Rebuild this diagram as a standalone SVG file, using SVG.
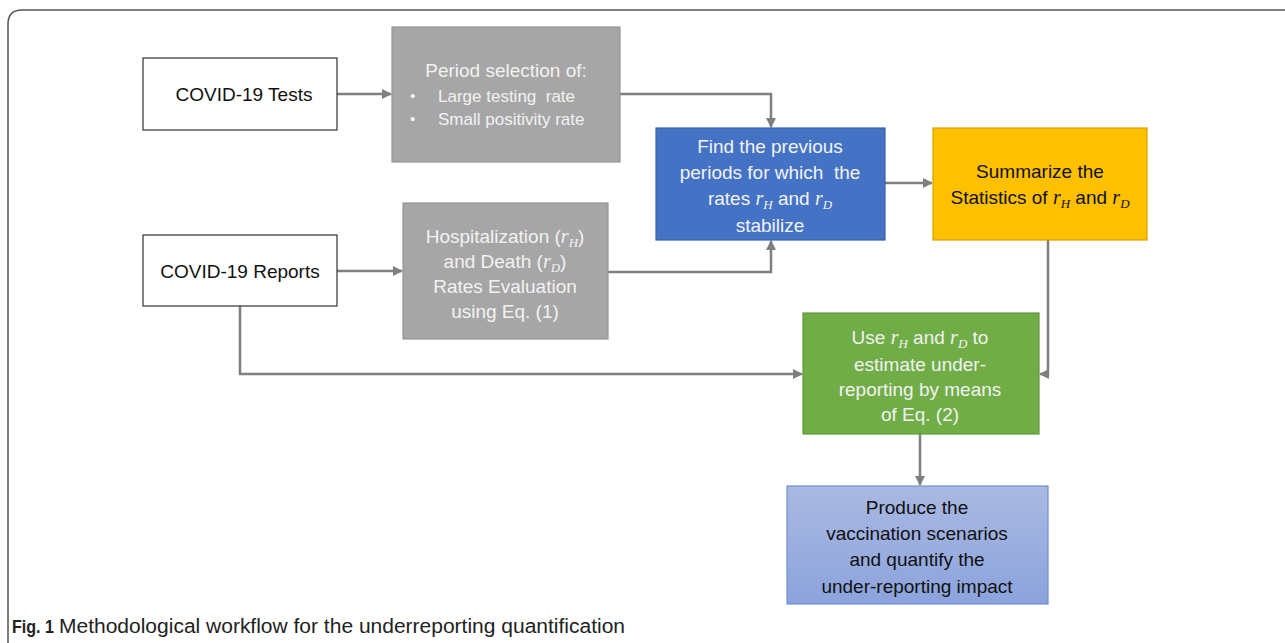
<svg xmlns="http://www.w3.org/2000/svg" width="1285" height="643" viewBox="0 0 1285 643">
<style>
.t{font-family:"Liberation Sans",Arial,sans-serif;font-size:19px;text-anchor:middle}
.w{fill:#f2f2f2}
.k{fill:#111}
.m{font-family:"Liberation Serif","Times New Roman",serif;font-style:italic;font-size:20px}
.s{font-family:"Liberation Serif","Times New Roman",serif;font-style:italic;font-size:13px}
.c{stroke:#7f7f7f;stroke-width:2.5;fill:none;marker-end:url(#a)}
</style>
<defs>
<marker id="a" viewBox="0 0 10 10" refX="9" refY="5" markerWidth="4" markerHeight="4" orient="auto" markerUnits="strokeWidth">
<path d="M0 0 L10 5 L0 10 z" fill="#7f7f7f"/>
</marker>
<linearGradient id="g" x1="0" y1="0" x2="0" y2="1">
<stop offset="0" stop-color="#aab9e2"/>
<stop offset="1" stop-color="#8ba3dc"/>
</linearGradient>
</defs>
<rect width="1285" height="643" fill="#fff"/>
<path d="M8 643 V24 Q8 10 22 10 H1285" fill="none" stroke="#555" stroke-width="1.5"/>

<g id="connectors">
<path class="c" d="M337 94 H391"/>
<path class="c" d="M620 94 H771 V127"/>
<path class="c" d="M337 271 H402"/>
<path class="c" d="M608 272 H771 V241"/>
<path class="c" d="M885 183 H932"/>
<path class="c" d="M1048 240 V374 H1040"/>
<path class="c" d="M240 306 V374 H802"/>
<path class="c" d="M920 434 V485"/>
</g>

<g id="tests">
<rect x="143" y="58" width="194" height="72" fill="#fff" stroke="#333" stroke-width="1.2"/>
<text class="t k" x="244" y="101">COVID-19 Tests</text>
</g>

<g id="period">
<rect x="392" y="27" width="228" height="135" fill="#a6a6a6" stroke="#959595" stroke-width="1.2"/>
<text class="t w" x="506" y="77">Period selection of:</text>
<text class="w" x="410" y="101" style="font-family:'Liberation Sans',sans-serif;font-size:15px">•</text>
<text class="w" x="438" y="102" style="font-family:'Liberation Sans',sans-serif;font-size:17px">Large testing&#160; rate</text>
<text class="w" x="410" y="124" style="font-family:'Liberation Sans',sans-serif;font-size:15px">•</text>
<text class="w" x="438" y="125" style="font-family:'Liberation Sans',sans-serif;font-size:17px">Small positivity rate</text>
</g>

<g id="find">
<rect x="656" y="128" width="229" height="112" fill="#4472c4" stroke="#3b62a8" stroke-width="1.2"/>
<text class="t w" x="770" y="153">Find the previous</text>
<text class="t w" x="770" y="179">periods for which&#160; the</text>
<text class="t w" x="770" y="205">rates <tspan class="m">r</tspan><tspan class="s" dy="4">H</tspan><tspan dy="-4"> and </tspan><tspan class="m">r</tspan><tspan class="s" dy="4">D</tspan></text>
<text class="t w" x="770" y="232">stabilize</text>
</g>

<g id="summarize">
<rect x="933" y="128" width="214" height="112" fill="#ffc000" stroke="#d9a300" stroke-width="1.2"/>
<text class="t k" x="1040" y="178">Summarize the</text>
<text class="t k" x="1040" y="204">Statistics of <tspan class="m">r</tspan><tspan class="s" dy="4">H</tspan><tspan dy="-4"> and </tspan><tspan class="m">r</tspan><tspan class="s" dy="4">D</tspan></text>
</g>

<g id="reports">
<rect x="143" y="235" width="194" height="71" fill="#fff" stroke="#333" stroke-width="1.2"/>
<text class="t k" x="240" y="278">COVID-19 Reports</text>
</g>

<g id="hosp">
<rect x="403" y="203" width="205" height="136" fill="#a6a6a6" stroke="#959595" stroke-width="1.2"/>
<text class="t w" x="505" y="243">Hospitalization (<tspan class="m">r</tspan><tspan class="s" dy="4">H</tspan><tspan dy="-4">)</tspan></text>
<text class="t w" x="505" y="268">and Death (<tspan class="m">r</tspan><tspan class="s" dy="4">D</tspan><tspan dy="-4">)</tspan></text>
<text class="t w" x="505" y="293">Rates Evaluation</text>
<text class="t w" x="505" y="318">using Eq. (1)</text>
</g>

<g id="use">
<rect x="803" y="313" width="236" height="121" fill="#70ad47" stroke="#5f9a3a" stroke-width="1.2"/>
<text class="t w" x="920" y="344">Use <tspan class="m">r</tspan><tspan class="s" dy="4">H</tspan><tspan dy="-4"> and </tspan><tspan class="m">r</tspan><tspan class="s" dy="4">D</tspan><tspan dy="-4"> to</tspan></text>
<text class="t w" x="920" y="371">estimate under-</text>
<text class="t w" x="920" y="396">reporting by means</text>
<text class="t w" x="920" y="421">of Eq. (2)</text>
</g>

<g id="produce">
<rect x="787" y="486" width="261" height="118" fill="url(#g)" stroke="#6f8fd0" stroke-width="1.2"/>
<text class="t k" x="917" y="514">Produce the</text>
<text class="t k" x="917" y="540">vaccination scenarios</text>
<text class="t k" x="917" y="566">and quantify the</text>
<text class="t k" x="917" y="593">under-reporting impact</text>
</g>

<text x="12" y="633" style="font-family:'Liberation Sans',Arial,sans-serif;font-size:19px;font-weight:bold;fill:#222" textLength="42" lengthAdjust="spacingAndGlyphs">Fig. 1</text>
<text x="59" y="633" style="font-family:'Liberation Sans',Arial,sans-serif;font-size:20px;fill:#222" textLength="566" lengthAdjust="spacingAndGlyphs">Methodological workflow for the underreporting quantification</text>
</svg>
